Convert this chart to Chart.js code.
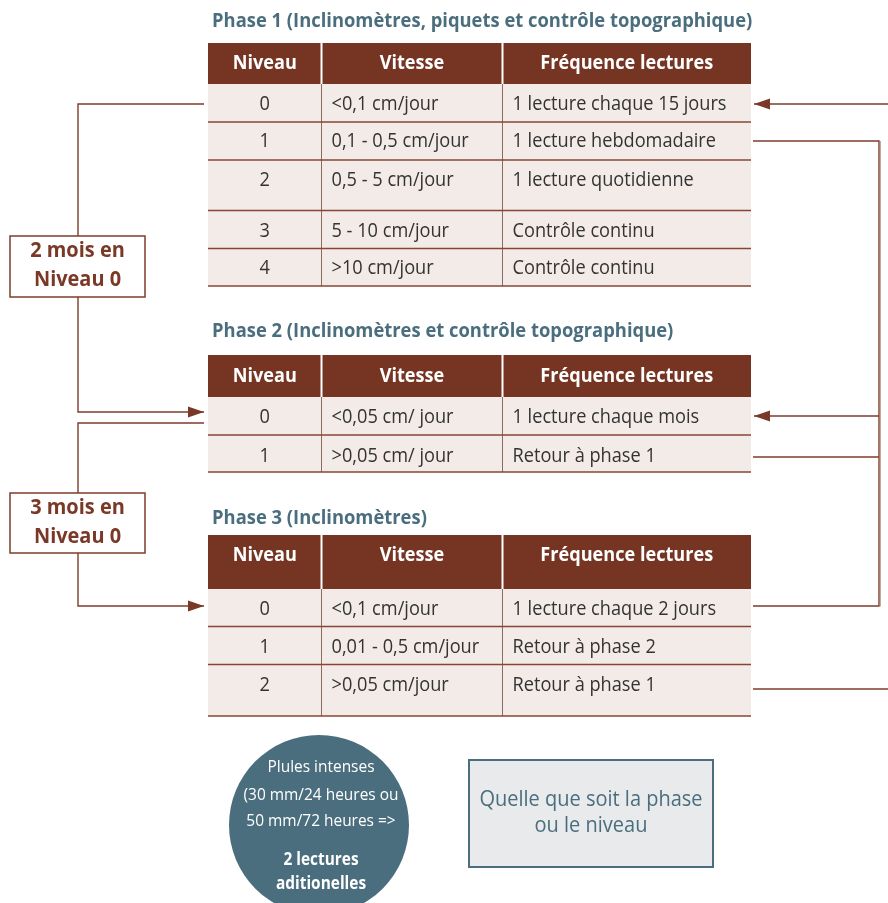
<!DOCTYPE html>
<html><head><meta charset="utf-8">
<script src="https://cdn.jsdelivr.net/npm/chart.js@4"></script>
<style>html,body{margin:0;padding:0;background:#fff}canvas{display:block}</style>
</head><body><canvas id="c" width="888" height="903"></canvas>
<script>
// ---- DATA ----
const phaseTitles = [
  'Phase 1 (Inclinomètres, piquets et contrôle topographique)',
  'Phase 2 (Inclinomètres et contrôle topographique)',
  'Phase 3 (Inclinomètres)'
];
const headers = ['Niveau', 'Vitesse', 'Fréquence lectures'];
const phase1Niveau = ['0', '1', '2', '3', '4'];
const phase1Vitesse = ['<0,1 cm/jour', '0,1 - 0,5 cm/jour', '0,5 - 5 cm/jour', '5 - 10 cm/jour', '>10 cm/jour'];
const phase1Frequence = ['1 lecture chaque 15 jours', '1 lecture hebdomadaire', '1 lecture quotidienne', 'Contrôle continu', 'Contrôle continu'];
const phase2Niveau = ['0', '1'];
const phase2Vitesse = ['<0,05 cm/ jour', '>0,05 cm/ jour'];
const phase2Frequence = ['1 lecture chaque mois', 'Retour à phase 1'];
const phase3Niveau = ['0', '1', '2'];
const phase3Vitesse = ['<0,1 cm/jour', '0,01 - 0,5 cm/jour', '>0,05 cm/jour'];
const phase3Frequence = ['1 lecture chaque 2 jours', 'Retour à phase 2', 'Retour à phase 1'];
const boxTwoMonths = ['2 mois en', 'Niveau 0'];
const boxThreeMonths = ['3 mois en', 'Niveau 0'];
const circleLines = ['Plules intenses', '(30 mm/24 heures ou', '50 mm/72 heures =>', '2 lectures', 'aditionelles'];
const noteLines = ['Quelle que soit la phase', 'ou le niveau'];

// ---- LAYOUT (positions/sizes/styles, kept separate from data) ----
const L = {
  cols: [208, 321.5, 502.5, 751],
  titleX: 212, pad: 10,
  tables: [
    {titleY: 21, top: 43, head: 84, headTextY: 63, rows: [122, 160, 210.5, 248.5, 286], textY: [104, 141, 180, 231, 268]},
    {titleY: 331, top: 355, head: 397, headTextY: 376, rows: [435, 472], textY: [417, 456]},
    {titleY: 518, top: 535, head: 589, headTextY: 555, rows: [626.5, 664.5, 716], textY: [609, 647, 685]}
  ],
  boxes: [
    {x0: 10, x1: 145, y0: 236, y1: 297, ty: [251, 280]},
    {x0: 10, x1: 145, y0: 493, y1: 553, ty: [508, 537]}
  ],
  leftPaths: [
    {pts: [[204,104],[78,104],[78,236]], arrow: false},
    {pts: [[78,297],[78,412],[204,412]], arrow: true},
    {pts: [[204,423],[78,423],[78,493]], arrow: false},
    {pts: [[78,553],[78,606],[204,606]], arrow: true}
  ],
  rightPaths: [
    {pts: [[888,104],[754,104]], arrow: true},
    {pts: [[753,141],[879,141],[879,606],[753,606]], arrow: false},
    {pts: [[879,416],[754,416]], arrow: true},
    {pts: [[753,457],[879,457]], arrow: false},
    {pts: [[753,689],[888,689]], arrow: false}
  ],
  circle: {cx: 319, cy: 825, r: 90, tx: 321, ty: [767, 795, 821, 860, 884]},
  note: {x0: 469, x1: 713, y0: 760, y1: 867, ty: [800, 826]},
  colors: {head: '#763523', body: '#f3ebe8', rule: '#874634', teal: '#4a6e7e', brown: '#7a3827', line: '#7f3d2b', noteFill: '#e8eaec', ink: '#333333'}
};
const FAM = '"Open Sans", "Noto Sans", sans-serif';

const tables = [
  [phase1Niveau, phase1Vitesse, phase1Frequence],
  [phase2Niveau, phase2Vitesse, phase2Frequence],
  [phase3Niveau, phase3Vitesse, phase3Frequence]
];

const diagramPlugin = {
  id: 'diagram',
  afterDraw(chart) {
    const ctx = chart.ctx, xs = chart.scales.x, ys = chart.scales.y;
    const px = v => xs.getPixelForValue(v), py = v => ys.getPixelForValue(v);
    // calibrate horizontal compression to mimic a narrower typeface
    ctx.save();
    ctx.font = '20px ' + FAM;
    const sxR = 214 / ctx.measureText('1 lecture chaque 15 jours').width;
    ctx.font = 'bold 20px ' + FAM;
    const sxB = 173 / ctx.measureText('Fréquence lectures').width;
    ctx.restore();

    function text(s, x, y, size, bold, color, align) {
      ctx.save();
      ctx.font = (bold ? 'bold ' : '') + size + 'px ' + FAM;
      ctx.fillStyle = color;
      ctx.textBaseline = 'middle';
      ctx.textAlign = align || 'left';
      const sx = bold ? sxB : sxR;
      ctx.translate(px(x), py(y));
      ctx.scale(sx, 1);
      ctx.fillText(s, 0, 0);
      ctx.restore();
    }
    function rect(x0, y0, x1, y1, fill, stroke, lw) {
      ctx.save();
      const X = px(x0), Y = py(y0), W = px(x1) - X, H = py(y1) - Y;
      if (fill) { ctx.fillStyle = fill; ctx.fillRect(X, Y, W, H); }
      if (stroke) { ctx.strokeStyle = stroke; ctx.lineWidth = lw; ctx.strokeRect(X, Y, W, H); }
      ctx.restore();
    }
    function seg(x0, y0, x1, y1, color, lw) {
      ctx.save();
      ctx.strokeStyle = color; ctx.lineWidth = lw;
      ctx.beginPath(); ctx.moveTo(px(x0), py(y0)); ctx.lineTo(px(x1), py(y1)); ctx.stroke();
      ctx.restore();
    }
    function path(p, color, lw) {
      const pts = p.pts;
      ctx.save();
      ctx.strokeStyle = color; ctx.lineWidth = lw; ctx.lineJoin = 'miter';
      ctx.beginPath();
      pts.forEach((q, i) => { const X = px(q[0]), Y = py(q[1]); i ? ctx.lineTo(X, Y) : ctx.moveTo(X, Y); });
      ctx.stroke();
      if (p.arrow) {
        const a = pts[pts.length - 2], b = pts[pts.length - 1];
        const dir = Math.sign(b[0] - a[0]);
        const tx = px(b[0]), ty = py(b[1]);
        ctx.fillStyle = L.colors.brown;
        ctx.beginPath();
        ctx.moveTo(tx, ty);
        ctx.lineTo(tx - dir * 16, ty - 5.5);
        ctx.lineTo(tx - dir * 16, ty + 5.5);
        ctx.closePath(); ctx.fill();
      }
      ctx.restore();
    }

    const C = L.colors, cols = L.cols;
    // tables
    tables.forEach((tbl, t) => {
      const g = L.tables[t];
      text(phaseTitles[t], L.titleX, g.titleY, 20.3, true, C.teal);
      rect(cols[0], g.top, cols[3], g.head, C.head);
      rect(cols[0], g.head, cols[3], g.rows[g.rows.length - 1], C.body);
      [cols[1], cols[2]].forEach(c => seg(c, g.top, c, g.head, '#ffffff', 2));
      [cols[1], cols[2]].forEach(c => seg(c, g.head, c, g.rows[g.rows.length - 1], '#8f6a5f', 1));
      g.rows.forEach(r => seg(cols[0], r, cols[3], r, C.rule, 1.5));
      headers.forEach((h, i) => text(h, (cols[i] + cols[i + 1]) / 2, g.headTextY, 20, true, '#ffffff', 'center'));
      tbl[0].forEach((v, r) => {
        text(v, (cols[0] + cols[1]) / 2, g.textY[r], 20, false, C.ink, 'center');
        text(tbl[1][r], cols[1] + L.pad, g.textY[r], 20, false, C.ink);
        text(tbl[2][r], cols[2] + L.pad, g.textY[r], 20, false, C.ink);
      });
    });

    // connectors
    L.leftPaths.forEach(p => path(p, C.line, 1.4));
    L.rightPaths.forEach(p => path(p, C.line, 1.4));
    seg(880.5, 141, 880.5, 606.5, 'rgba(160,110,95,0.6)', 1);

    // boxes
    [boxTwoMonths, boxThreeMonths].forEach((lines, i) => {
      const b = L.boxes[i];
      rect(b.x0, b.y0, b.x1, b.y1, '#ffffff', C.line, 1.5);
      lines.forEach((s, k) => text(s, (b.x0 + b.x1) / 2, b.ty[k], 22, true, C.brown, 'center'));
    });

    // circle
    const ci = L.circle;
    ctx.save();
    ctx.fillStyle = C.teal;
    ctx.beginPath();
    ctx.arc(px(ci.cx), py(ci.cy), px(ci.cx + ci.r) - px(ci.cx), 0, Math.PI * 2);
    ctx.fill();
    ctx.restore();
    circleLines.forEach((s, k) => text(s, ci.tx, ci.ty[k], 17, k >= 3, '#ffffff', 'center'));

    // note box
    const n = L.note;
    rect(n.x0, n.y0, n.x1, n.y1, C.noteFill, C.teal, 2);
    noteLines.forEach((s, k) => text(s, (n.x0 + n.x1) / 2, n.ty[k], 22, false, C.teal, 'center'));
  }
};

new Chart(document.getElementById('c'), {
  type: 'scatter',
  data: {datasets: [{data: [], showLine: false}]},
  options: {
    responsive: false, animation: false, devicePixelRatio: 1,
    layout: {padding: 0},
    plugins: {legend: {display: false}, tooltip: {enabled: false}},
    scales: {
      x: {type: 'linear', min: 0, max: 888, display: false},
      y: {type: 'linear', min: 0, max: 903, reverse: true, display: false}
    }
  },
  plugins: [diagramPlugin]
});
</script>
</body></html>
